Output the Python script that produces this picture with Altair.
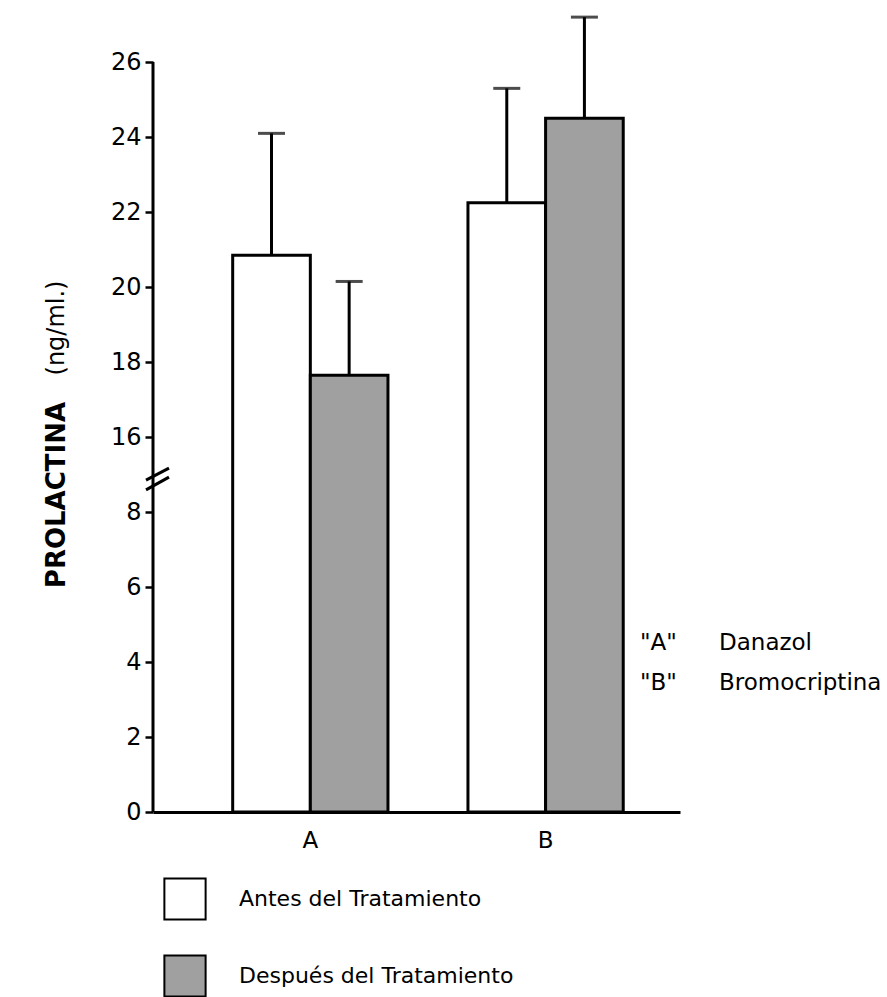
import altair as alt
import pandas as pd

grupos = ["A", "A", "B", "B"]
periodos = ["Antes del Tratamiento", "Después del Tratamiento",
            "Antes del Tratamiento", "Después del Tratamiento"]
valores = [20.85, 17.65, 22.25, 24.5]
error_sup = [24.1, 20.15, 25.3, 27.2]

orden_periodos = ["Antes del Tratamiento", "Después del Tratamiento"]
colores = ["white", "#a0a0a0"]

ticks_mostrados = [0, 2, 4, 6, 8, 10, 12, 14, 16, 18, 20]

etiquetas_letra = ['"A"', '"B"']
etiquetas_nombre = ["Danazol", "Bromocriptina"]

FONT = "DejaVu Sans"

df = pd.DataFrame({"grupo": grupos, "periodo": periodos,
                   "valor": valores, "err": error_sup})

base = alt.Chart(df).transform_calculate(
    disp="datum.valor >= 16 ? datum.valor - 6 : datum.valor",
    err_disp="datum.err >= 16 ? datum.err - 6 : datum.err",
)

xscale = alt.Scale(paddingInner=0.34, paddingOuter=0.29, align=0.584)
yscale = alt.Scale(domain=[0, 21.39], nice=False, zero=True)

x_enc = alt.X("grupo:N", scale=xscale, sort=["A", "B"],
              axis=alt.Axis(title=None, ticks=False, domainWidth=3, domainColor="black",
                            labelFontSize=23, labelFont=FONT, labelColor="black",
                            labelPadding=17, labelAngle=0))
xoff = alt.XOffset("periodo:N", sort=orden_periodos,
                   scale=alt.Scale(paddingInner=0, paddingOuter=0))

bars = base.mark_bar(stroke="black", strokeWidth=3).encode(
    x=x_enc,
    xOffset=xoff,
    y=alt.Y("disp:Q", scale=yscale,
            axis=alt.Axis(values=ticks_mostrados,
                          labelExpr="datum.value >= 10 ? datum.value + 6 : datum.value",
                          domain=False, grid=False, tickSize=8, tickWidth=2.5,
                          tickColor="black", labelFontSize=24, labelFont=FONT,
                          labelColor="black", labelPadding=4, title=None)),
    fill=alt.Fill("periodo:N", sort=orden_periodos,
                  scale=alt.Scale(domain=orden_periodos, range=colores),
                  legend=alt.Legend(orient="none", legendX=10, legendY=867, title=None,
                                    symbolType="square", symbolSize=1700,
                                    symbolStrokeColor="black", symbolStrokeWidth=2,
                                    labelFontSize=22, labelFont=FONT, labelColor="black",
                                    labelLimit=600,
                                    rowPadding=27, labelOffset=32, padding=0,
                                    direction="vertical")),
)

rules = base.mark_rule(color="black", strokeWidth=3).encode(
    x=alt.X("grupo:N", scale=xscale, sort=["A", "B"]),
    xOffset=xoff,
    y=alt.Y("disp:Q"),
    y2="err_disp:Q",
)

caps = base.mark_tick(color="black", thickness=3, size=27).encode(
    x=alt.X("grupo:N", scale=xscale, sort=["A", "B"]),
    xOffset=xoff,
    y=alt.Y("err_disp:Q"),
)

eje = alt.Chart(pd.DataFrame({"a": [0], "b": [20]})).mark_rule(
    color="black", strokeWidth=3).encode(
    x=alt.value(0), y=alt.Y("a:Q"), y2="b:Q")

cortes = alt.Chart(pd.DataFrame({"y1": [8.85, 8.59], "y2": [9.17, 8.93]})).mark_rule(
    color="black", strokeWidth=3).encode(
    x=alt.value(-7), x2=alt.value(16), y=alt.Y("y1:Q"), y2="y2:Q")

titulo1 = alt.Chart(pd.DataFrame({"t": ["PROLACTINA"]})).mark_text(
    angle=270, font=FONT, fontSize=26, fontWeight="bold", color="black",
    align="center", baseline="middle").encode(
    text="t:N", x=alt.value(-96), y=alt.value(485))

titulo2 = alt.Chart(pd.DataFrame({"t": ["(ng/ml.)"]})).mark_text(
    angle=270, font=FONT, fontSize=24, color="black",
    align="center", baseline="middle").encode(
    text="t:N", x=alt.value(-96), y=alt.value(318))

letraA = alt.Chart(pd.DataFrame({"t": [etiquetas_letra[0]]})).mark_text(
    font=FONT, fontSize=23, color="black", align="left", baseline="middle").encode(
    text="t:N", x=alt.value(487), y=alt.value(633))
nombreA = alt.Chart(pd.DataFrame({"t": [etiquetas_nombre[0]]})).mark_text(
    font=FONT, fontSize=23, color="black", align="left", baseline="middle").encode(
    text="t:N", x=alt.value(566), y=alt.value(633))
letraB = alt.Chart(pd.DataFrame({"t": [etiquetas_letra[1]]})).mark_text(
    font=FONT, fontSize=23, color="black", align="left", baseline="middle").encode(
    text="t:N", x=alt.value(487), y=alt.value(673))
nombreB = alt.Chart(pd.DataFrame({"t": [etiquetas_nombre[1]]})).mark_text(
    font=FONT, fontSize=23, color="black", align="left", baseline="middle").encode(
    text="t:N", x=alt.value(566), y=alt.value(673))

chart = alt.layer(bars, rules, caps, eje, cortes, titulo1, titulo2,
                  letraA, nombreA, letraB, nombreB).properties(
    width=527, height=802,
    padding={"left": 153, "top": 10, "right": 207, "bottom": 185},
    autosize="none",
    background="white",
).configure_view(stroke=None)

chart.save("out.html", embed_options={"renderer": "svg", "actions": False})
